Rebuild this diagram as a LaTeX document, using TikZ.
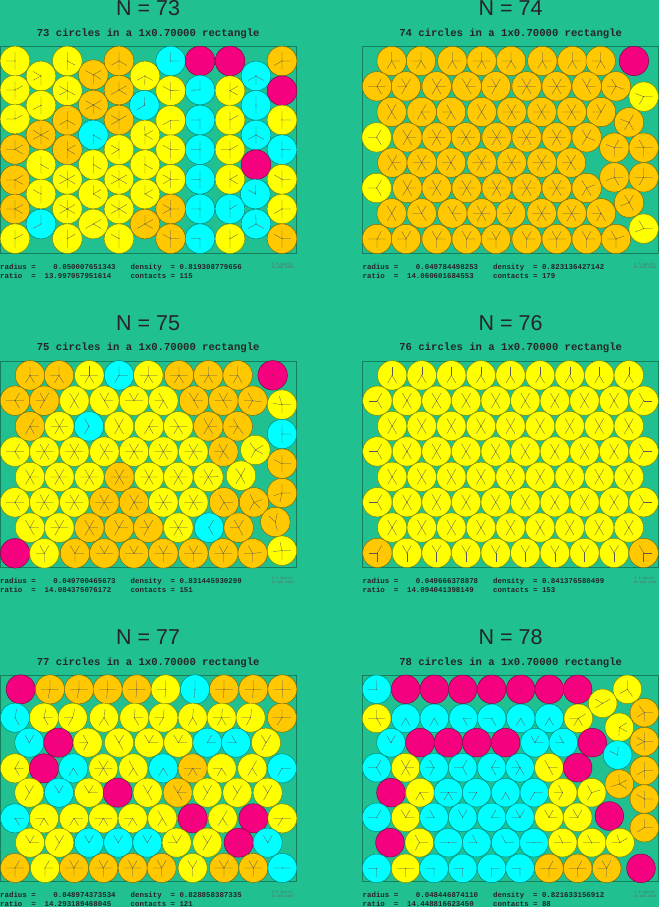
\documentclass[tikz,border=0pt]{standalone}
\usepackage{fontspec}
\usetikzlibrary{calc}
\setmainfont{Liberation Sans}
\newfontfamily\monof{Liberation Mono}
\definecolor{bg}{HTML}{20C090}
\definecolor{cYe}{HTML}{FFFF00}
\definecolor{cOr}{HTML}{FFC800}
\definecolor{cCy}{HTML}{00FFFF}
\definecolor{cMg}{HTML}{F5007F}
\definecolor{frm}{HTML}{137F5C}
\def\rr{14.8}
\def\nmMg{cMg}\def\nmCy{cCy}\def\nmYe{cYe}\def\nmOr{cOr}
\newcommand\cir[3]{%
  \filldraw[fill=#3, draw=#3!50!black, line width=0.45pt] (#1,#2) circle[radius=\rr pt];
  \fill[black!75] (#1,#2) circle[radius=0.5pt];}
\newcommand\circles[1]{\foreach \x/\y/\c in #1 {\cir{\x}{\y}{\c}}}
% threshold spokes: #1 list, #2 L, #3 R, #4 T, #5 B, #6 radius (zoom units), #7 tolerance
\newcommand\spokes[7]{%
 \foreach \xa/\ya/\ca in #1 {%
   \edef\tmpc{\ca}%
   \ifx\tmpc\nmMg\else
   \foreach \xb/\yb/\cb in #1 {%
     \ifdim\dimexpr\xb pt-\xa pt\relax<100pt \ifdim\dimexpr\xb pt-\xa pt\relax>-100pt
     \ifdim\dimexpr\yb pt-\ya pt\relax<100pt \ifdim\dimexpr\yb pt-\ya pt\relax>-100pt
       \pgfmathparse{and(veclen(\xb-\xa,\yb-\ya)>1, veclen(\xb-\xa,\yb-\ya)<2*#6*#7) ? 1 : 0}%
       \ifnum\pgfmathresult=1 \draw[spk] (\xa,\ya) -- ($(\xa,\ya)!0.3!(\xb,\yb)$);\fi
     \fi\fi\fi\fi}%
   \pgfmathparse{\xa-#2<#6*#7 ? 1 : 0}\ifnum\pgfmathresult=1 \draw[spk] (\xa,\ya) -- ++(-0.6*#6,0);\fi
   \pgfmathparse{#3-\xa<#6*#7 ? 1 : 0}\ifnum\pgfmathresult=1 \draw[spk] (\xa,\ya) -- ++(0.6*#6,0);\fi
   \pgfmathparse{\ya-#4<#6*#7 ? 1 : 0}\ifnum\pgfmathresult=1 \draw[spk] (\xa,\ya) -- ++(0,-0.6*#6);\fi
   \pgfmathparse{#5-\ya<#6*#7 ? 1 : 0}\ifnum\pgfmathresult=1 \draw[spk] (\xa,\ya) -- ++(0,0.6*#6);\fi
   \fi}}
% nearest-k spokes: #1 list, #2 L, #3 R, #4 T, #5 B, #6 radius, #7 k cyan, #8 k yellow, #9 k orange
\newcommand\spokesk[9]{%
 \foreach \xa/\ya/\ca in #1 {%
  \edef\tmpc{\ca}\def\kk{0}%
  \ifx\tmpc\nmCy \def\kk{#7}\fi
  \ifx\tmpc\nmYe \def\kk{#8}\fi
  \ifx\tmpc\nmOr \def\kk{#9}\fi
  \ifnum\kk>0
   \gdef\cand{}%
   \foreach \xb/\yb/\cb in #1 {%
     \ifdim\dimexpr\xb pt-\xa pt\relax<100pt \ifdim\dimexpr\xb pt-\xa pt\relax>-100pt
     \ifdim\dimexpr\yb pt-\ya pt\relax<100pt \ifdim\dimexpr\yb pt-\ya pt\relax>-100pt
       \pgfmathsetmacro\qq{veclen(\xb-\xa,\yb-\ya)/(2*#6)}%
       \ifdim\qq pt>0.01pt \xdef\cand{\cand\qq/\xb/\yb,}\fi
     \fi\fi\fi\fi}%
   \pgfmathsetmacro\qq{(\xa-#2)/#6}\pgfmathsetmacro\tt{\xa-2*#6}\xdef\cand{\cand\qq/\tt/\ya,}%
   \pgfmathsetmacro\qq{(#3-\xa)/#6}\pgfmathsetmacro\tt{\xa+2*#6}\xdef\cand{\cand\qq/\tt/\ya,}%
   \pgfmathsetmacro\qq{(\ya-#4)/#6}\pgfmathsetmacro\tt{\ya-2*#6}\xdef\cand{\cand\qq/\xa/\tt,}%
   \pgfmathsetmacro\qq{(#5-\ya)/#6}\pgfmathsetmacro\tt{\ya+2*#6}\xdef\cand{\cand\qq/\xa/\tt,}%
   \xdef\cand{\cand 99/0/0}%
   \gdef\thr{0}%
   \foreach \pass in {1,...,\kk} {%
     \gdef\mn{99}%
     \foreach \q/\tx/\ty in \cand {\ifdim\q pt>\thr pt \ifdim\q pt<\mn pt \xdef\mn{\q}\fi\fi}%
     \xdef\thr{\mn}}%
   \foreach \q/\tx/\ty in \cand {%
     \ifdim\q pt<\dimexpr\thr pt+0.0001pt\relax \ifdim\q pt<1.2pt
       \draw[spk] (\xa,\ya) -- ($(\xa,\ya)!0.3!(\tx,\ty)$);\fi\fi}%
  \fi}}
\newcommand\ptext[8]{%
  \draw[frm, line width=0.7pt] (#2, #3+46.7) rectangle (#2+296.3, #3+253.3);
  \node[ttl] (#1t) at (#2+148.2, #3+16) {N = #4};
  \node[sub] (#1s) at (#2+148.2, #3+36.7) {#4 circles in a 1x0.70000 rectangle};
  \node[info] (#1a) at (#2, #3+269) {radius~=~~~~#5};
  \node[info] (#1b) at (#2, #3+278.3) {ratio~~=~~#6};
  \node[info] (#1c) at (#2+130.5, #3+269) {density~~=~#7};
  \node[info] (#1d) at (#2+130.5, #3+278.3) {contacts~=~#8};
  \node[cpy] (#1e) at (#2+282.4, #3+265.3) {© E.Specht};
  \node[cpy] (#1f) at (#2+282.4, #3+268.8) {15-AUG-2010};}

\def\listA{45/183/cYe,45/270/cYe,45/357/cYe,45/448/cOr,45/540/cOr,45/627/cOr,45/716/cYe,
 123/228/cYe,123/316/cYe,123/405/cOr,123/494/cYe,123/582/cYe,123/672/cCy,
 202/183/cYe,202/272/cYe,202/361/cOr,202/449/cOr,202/538/cYe,202/627/cYe,202/716/cYe,
 280/224/cOr,280/315/cOr,280/405/cCy,280/494/cYe,280/582/cYe,280/672/cYe,
 357/183/cOr,357/270/cOr,357/360/cOr,357/449/cYe,357/538/cYe,357/627/cYe,357/716/cYe,
 435/228/cYe,433/316/cCy,435/405/cYe,435/494/cYe,435/582/cYe,435/672/cOr,
 512/183/cCy,512/272/cYe,512/361/cYe,512/449/cYe,512/538/cYe,512/627/cOr,512/716/cOr,
 600/183/cMg,600/270/cCy,600/360/cCy,600/449/cCy,600/538/cCy,600/627/cCy,600/716/cCy,
 690/183/cMg,690/272/cYe,690/360/cYe,690/449/cYe,690/538/cYe,690/627/cCy,690/716/cYe,
 768/228/cCy,768/316/cCy,768/405/cCy,768/494/cMg,766/582/cCy,768/672/cCy,
 846/183/cOr,846/272/cMg,846/360/cYe,846/449/cCy,846/538/cYe,846/627/cYe,846/716/cOr}
\def\listB{95/183/cOr,183/183/cOr,277/183/cOr,365/183/cOr,453/183/cOr,547/183/cOr,637/183/cOr,722/183/cOr,822/183/cMg,
 51/259/cOr,138/259/cOr,230/259/cOr,320/259/cOr,408/259/cOr,500/259/cOr,590/259/cOr,680/259/cOr,768/259/cOr,
 851/290/cYe,
 95/336/cOr,185/336/cOr,273/336/cOr,365/336/cOr,455/336/cOr,545/336/cOr,635/336/cOr,723/336/cOr,
 807/367/cOr,
 50/412/cYe,142/412/cOr,230/412/cOr,318/412/cOr,410/412/cOr,500/412/cOr,590/412/cOr,680/412/cOr,
 763/443/cOr,851/443/cOr,
 97/488/cOr,185/488/cOr,273/488/cOr,365/488/cOr,455/488/cOr,545/488/cOr,633/488/cOr,
 763/532/cOr,851/532/cOr,
 50/564/cYe,142/564/cOr,230/564/cOr,320/564/cOr,410/564/cOr,500/564/cOr,590/564/cOr,680/564/cOr,
 807/608/cOr,
 95/640/cOr,185/640/cOr,277/640/cOr,365/640/cOr,453/640/cOr,545/640/cOr,635/640/cOr,723/640/cOr,
 851/686/cYe,
 51/717/cOr,138/717/cOr,230/717/cOr,320/717/cOr,408/717/cOr,500/717/cOr,590/717/cOr,680/717/cOr,768/717/cOr}
\def\listC{90/196/cOr,177/196/cOr,268/196/cYe,357/196/cCy,445/196/cYe,537/196/cOr,625/196/cOr,713/196/cOr,818/196/cMg,
 45/272/cOr,133/272/cOr,223/272/cYe,313/272/cYe,402/272/cYe,490/272/cYe,582/272/cOr,670/272/cOr,758/272/cOr,
 846/284/cYe,
 90/349/cOr,178/349/cYe,267/349/cCy,357/349/cYe,447/349/cYe,535/349/cYe,625/349/cOr,713/349/cOr,
 846/372/cCy,
 45/425/cYe,133/425/cYe,223/425/cYe,313/425/cYe,402/425/cYe,490/425/cYe,580/425/cYe,670/425/cOr,766/420/cYe,
 846/461/cOr,
 90/501/cYe,178/501/cYe,268/501/cYe,358/501/cOr,447/501/cYe,535/501/cYe,625/501/cYe,723/497/cYe,
 846/549/cOr,
 45/577/cYe,133/577/cYe,223/577/cYe,313/577/cOr,402/577/cOr,490/577/cYe,580/577/cYe,672/577/cOr,762/577/cOr,
 826/636/cOr,
 90/653/cYe,178/653/cYe,268/653/cOr,357/653/cOr,445/653/cOr,535/653/cYe,627/653/cCy,716/653/cOr,
 45/730/cMg,133/730/cYe,225/730/cOr,313/730/cOr,402/730/cOr,490/730/cOr,580/730/cOr,670/730/cOr,758/730/cOr,
 846/722/cYe}
\def\listD{96.43/196.05/cYe,185.19/196.05/cYe,273.95/196.05/cYe,362.71/196.05/cYe,451.47/196.05/cYe,540.23/196.05/cYe,628.99/196.05/cYe,717.75/196.05/cYe,806.51/196.05/cYe,
 52.05/272.16/cYe,140.81/272.16/cYe,229.57/272.16/cYe,318.33/272.16/cYe,407.09/272.16/cYe,495.85/272.16/cYe,584.61/272.16/cYe,673.37/272.16/cYe,762.13/272.16/cYe,850.89/272.16/cYe,
 96.43/348.27/cYe,185.19/348.27/cYe,273.95/348.27/cYe,362.71/348.27/cYe,451.47/348.27/cYe,540.23/348.27/cYe,628.99/348.27/cYe,717.75/348.27/cYe,806.51/348.27/cYe,
 52.05/424.38/cYe,140.81/424.38/cYe,229.57/424.38/cYe,318.33/424.38/cYe,407.09/424.38/cYe,495.85/424.38/cYe,584.61/424.38/cYe,673.37/424.38/cYe,762.13/424.38/cYe,850.89/424.38/cYe,
 96.43/500.49/cYe,185.19/500.49/cYe,273.95/500.49/cYe,362.71/500.49/cYe,451.47/500.49/cYe,540.23/500.49/cYe,628.99/500.49/cYe,717.75/500.49/cYe,806.51/500.49/cYe,
 52.05/576.6/cYe,140.81/576.6/cYe,229.57/576.6/cYe,318.33/576.6/cYe,407.09/576.6/cYe,495.85/576.6/cYe,584.61/576.6/cYe,673.37/576.6/cYe,762.13/576.6/cYe,850.89/576.6/cYe,
 96.43/652.71/cYe,185.19/652.71/cYe,273.95/652.71/cYe,362.71/652.71/cYe,451.47/652.71/cYe,540.23/652.71/cYe,628.99/652.71/cYe,717.75/652.71/cYe,806.51/652.71/cYe,
 52.05/728.82/cOr,140.81/728.82/cYe,229.57/728.82/cYe,318.33/728.82/cYe,407.09/728.82/cYe,495.85/728.82/cYe,584.61/728.82/cYe,673.37/728.82/cYe,762.13/728.82/cYe,850.89/728.82/cOr}
\def\listE{62/208/cMg,150/208/cOr,237/208/cOr,323/208/cOr,410/208/cOr,497/208/cYe,585/208/cCy,672/208/cOr,760/208/cOr,847/208/cOr,
 45/293/cCy,132/293/cYe,218/293/cYe,312/293/cYe,403/293/cYe,490/293/cYe,578/293/cYe,665/293/cYe,752/293/cYe,846/293/cOr,
 88/368/cCy,175/368/cMg,263/368/cYe,357/368/cYe,447/368/cYe,535/368/cYe,622/368/cCy,708/368/cCy,798/368/cYe,
 45/445/cYe,132/445/cMg,220/445/cCy,310/445/cYe,400/445/cYe,490/445/cCy,578/445/cOr,665/445/cYe,757/445/cYe,846/445/cCy,
 88/518/cYe,177/518/cCy,267/518/cYe,353/518/cMg,443/518/cYe,533/518/cOr,622/518/cYe,712/518/cYe,803/518/cYe,
 45/595/cCy,132/595/cYe,222/595/cYe,310/595/cYe,398/595/cYe,487/595/cYe,578/595/cMg,668/595/cYe,760/595/cMg,847/595/cYe,
 90/668/cYe,178/668/cYe,267/668/cCy,355/668/cCy,442/668/cCy,530/668/cYe,622/668/cYe,716/668/cMg,803/668/cCy,
 45/744/cOr,135/744/cYe,222/744/cOr,310/744/cOr,398/744/cOr,485/744/cOr,578/744/cYe,672/744/cOr,760/744/cOr,847/744/cCy}
\def\listF{50/208/cCy,137/208/cMg,223/208/cMg,308/208/cMg,395/208/cMg,482/208/cMg,568/208/cMg,653/208/cMg,
 802/208/cYe,728/250/cYe,
 50/295/cYe,137/295/cCy,223/295/cCy,310/295/cCy,395/295/cCy,482/295/cCy,568/295/cCy,655/295/cYe,
 853/278/cOr,778/322/cYe,
 93/368/cCy,180/368/cMg,265/368/cMg,350/368/cMg,437/368/cMg,525/368/cCy,610/368/cCy,697/368/cMg,
 853/365/cOr,773/405/cCy,
 50/443/cCy,137/443/cYe,222/443/cCy,308/443/cCy,395/443/cCy,480/443/cCy,567/443/cYe,653/443/cMg,
 853/452/cOr,778/492/cOr,
 93/518/cMg,180/518/cYe,265/518/cCy,350/518/cCy,437/518/cCy,523/518/cCy,608/518/cYe,695/518/cYe,
 853/537/cOr,
 50/592/cCy,137/592/cYe,222/592/cCy,308/592/cCy,395/592/cCy,480/592/cCy,567/592/cYe,653/592/cYe,748/588/cMg,
 853/623/cOr,
 90/668/cMg,178/668/cYe,265/668/cCy,350/668/cCy,437/668/cCy,522/668/cCy,608/668/cYe,695/668/cYe,780/668/cYe,
 50/745/cCy,137/745/cYe,222/745/cCy,308/745/cCy,395/745/cCy,480/745/cCy,567/745/cOr,653/745/cOr,740/745/cOr,843/745/cMg}

\begin{document}
\begin{tikzpicture}[x=1pt,y=-1pt,
  ttl/.style={anchor=base, inner sep=0pt, text=black!85, font=\fontsize{21.5}{24}\selectfont},
  sub/.style={anchor=base, inner sep=0pt, text=black!85, font=\monof\bfseries\fontsize{10.6}{12}\selectfont},
  info/.style={anchor=base west, inner sep=0pt, text=black!85, font=\monof\bfseries\fontsize{7.4}{8}\selectfont},
  cpy/.style={anchor=base, inner sep=0pt, text=black!60, font=\monof\fontsize{3.4}{4}\selectfont},
  spk/.style={draw=black!65, line width=0.3pt}]
\fill[bg] (0,0) rectangle (659,907);
\useasboundingbox (0,0) rectangle (659,907);

\ptext{p1}{0}{0}{73}{0.050007651343}{13.997057951614}{0.819308779656}{115}
\ptext{p2}{362.5}{0}{74}{0.049784498253}{14.060601684553}{0.823136427142}{179}
\ptext{p3}{0}{314.2}{75}{0.049700465673}{14.084375076172}{0.831445930299}{151}
\ptext{p4}{362.5}{314.2}{76}{0.049666378878}{14.094041398149}{0.841376580499}{153}
\ptext{p5}{0}{628.4}{77}{0.048974373534}{14.293189468045}{0.828858387335}{121}
\ptext{p6}{362.5}{628.4}{78}{0.048446874110}{14.448816623450}{0.821633156912}{88}

% N = 73
\def\rr{14.84}
\begin{scope}[shift={(0,0)}, x=0.33333pt, y=-0.33333pt]
\circles{\listA}
\spokesk{\listA}{0}{890}{140}{760}{44.5}{2}{3}{4}
\end{scope}

% N = 74
\def\rr{14.72}
\begin{scope}[shift={(360,0)}, x=0.33333pt, y=-0.33333pt]
\circles{\listB}
\spokesk{\listB}{8}{895}{140}{761}{44.16}{2}{3}{4}
\end{scope}

% N = 75
\def\rr{14.75}
\begin{scope}[shift={(0,310)}, x=0.33333pt, y=-0.33333pt]
\circles{\listC}
\spokesk{\listC}{0}{890}{152}{775}{44.25}{2}{4}{4}
\end{scope}

% N = 76
\def\rr{14.69}
\begin{scope}[shift={(360,310)}, x=0.33333pt, y=-0.33333pt]
\circles{\listD}
\spokes{\listD}{8}{895}{152}{772.9}{44.05}{1.003}
\end{scope}

% N = 77
\def\rr{14.53}
\begin{scope}[shift={(0,620)}, x=0.33333pt, y=-0.33333pt]
\circles{\listE}
\spokesk{\listE}{0}{890}{165}{788}{43.6}{2}{3}{4}
\end{scope}

% N = 78
\def\rr{14.33}
\begin{scope}[shift={(360,620)}, x=0.33333pt, y=-0.33333pt]
\circles{\listF}
\spokesk{\listF}{8}{895}{165}{786}{42.98}{2}{3}{4}
\end{scope}
\end{tikzpicture}
\end{document}
